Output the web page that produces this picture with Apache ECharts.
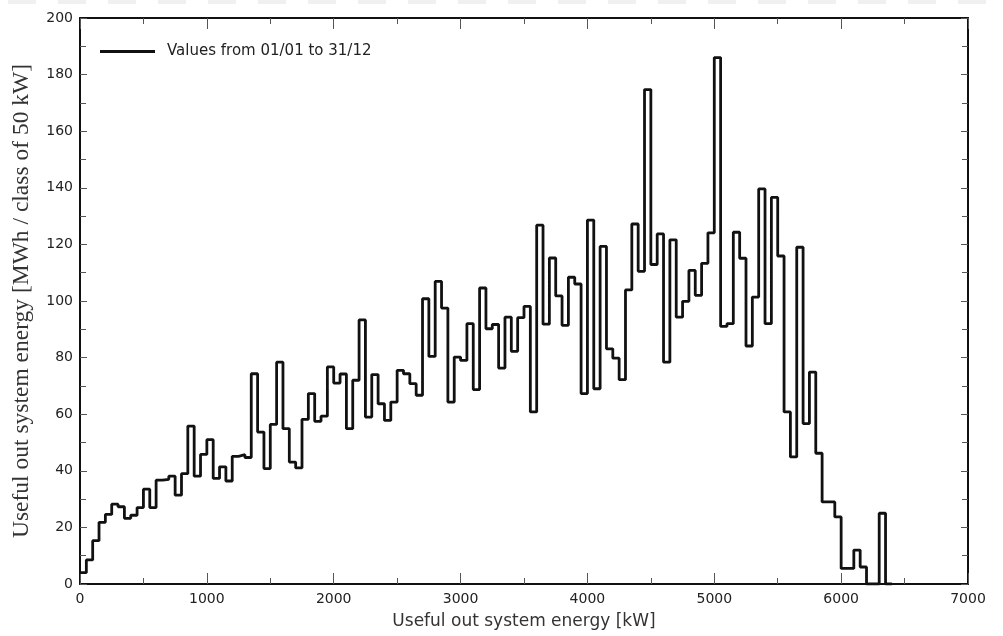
<!DOCTYPE html>
<html>
<head>
  <title>Useful out system energy</title>
  <meta charset="utf-8"/>
  <style>
    html, body { margin: 0; padding: 0; background: #fff; }
    #main { width: 1003px; height: 636px; }
  </style>
</head>
<body onload="init()">
<div id="main"></div>
<script src="https://cdn.jsdelivr.net/npm/echarts@6/dist/echarts.min.js"></script>
<script type="text/javascript">
// class width of the histogram, kW
var binWidth = 50;

// MWh per 50 kW class, one array per 1000 kW
var e0to1000 = [4, 8.5, 15.3, 21.8, 24.6, 28.2, 27.3, 23.2, 24.3, 27,
                33.5, 27, 36.7, 37, 38.1, 31.4, 39, 55.8, 38.1, 45.8];
var e1000to2000 = [51, 37.3, 41.4, 36.4, 45.1, 45.7, 44.7, 74.3, 53.7, 40.8,
                   56.4, 78.4, 54.9, 43.1, 41, 58.2, 67.3, 57.5, 59.3, 76.7];
var e2000to3000 = [71, 74.2, 54.9, 72, 93.3, 59, 74, 63.7, 57.8, 64.3,
                   75.5, 74.3, 70.8, 66.7, 100.8, 80.4, 106.9, 97.5, 64.3, 80.2];
var e3000to4000 = [79, 92, 68.7, 104.6, 90.2, 91.7, 76.3, 94.3, 82.2, 94.1,
                   98.1, 60.8, 126.8, 91.8, 115.2, 101.8, 91.4, 108.4, 106, 67.3];
var e4000to5000 = [128.6, 69, 119.3, 83.1, 79.8, 72.2, 103.9, 127.2, 110.5, 174.7,
                   112.9, 123.7, 78.4, 121.6, 94.3, 99.9, 110.8, 102, 113.3, 124.1];
var e5000to6000 = [186, 91, 92, 124.3, 115.1, 84.1, 101.4, 139.6, 92, 136.6,
                   115.9, 60.8, 44.9, 119, 56.7, 74.9, 46.2, 29, 29, 23.7];
var e6000to7000 = [5.5, 5.5, 12, 6, 0, 0, 25, 0];

var xTicks = { min: 0, max: 7000, interval: 1000 };
var yTicks = { min: 0, max: 200, interval: 20 };

var legendText = 'Values from 01/01 to 31/12';
var xName = 'Useful out system energy [kW]';
var yName = 'Useful out system energy [MWh / class of 50 kW]';

var sans = 'DejaVu Sans, Verdana, sans-serif';
var serif = 'Liberation Serif, Times New Roman, serif';

function init(){
  var values = [].concat(e0to1000, e1000to2000, e2000to3000, e3000to4000,
                         e4000to5000, e5000to6000, e6000to7000);
  // one point at the start of each class, step 'end' keeps the value over the class
  var points = values.map(function(v, i){ return [i * binWidth, v]; });
  points.push([values.length * binWidth, 0]);

  var tickStyle = { color: '#555', width: 1 };
  var lineStyle = { color: '#111', width: 2 };
  var plain = function(v){ return String(v); };

  function xAxisOf(pos, labels){
    return {
      type: 'value', position: pos,
      min: xTicks.min, max: xTicks.max, interval: xTicks.interval,
      axisLine: { show: true, onZero: false, lineStyle: lineStyle },
      axisTick: { show: true, inside: true, length: 11, lineStyle: tickStyle },
      minorTick: { show: true, splitNumber: 2, length: 6, lineStyle: tickStyle },
      splitLine: { show: false },
      minorSplitLine: { show: false },
      axisLabel: { show: labels, margin: 8, color: '#222', fontSize: 14,
                   fontFamily: sans, formatter: plain }
    };
  }
  function yAxisOf(pos, labels){
    return {
      type: 'value', position: pos,
      min: yTicks.min, max: yTicks.max, interval: yTicks.interval,
      axisLine: { show: true, onZero: false, lineStyle: lineStyle },
      axisTick: { show: true, inside: true, length: 7, lineStyle: tickStyle },
      minorTick: { show: true, splitNumber: 2, length: 6, lineStyle: tickStyle },
      splitLine: { show: false },
      minorSplitLine: { show: false },
      axisLabel: { show: labels, margin: 7, color: '#222', fontSize: 14,
                   fontFamily: sans, formatter: plain }
    };
  }

  var xMain = xAxisOf('bottom', true);
  xMain.name = xName;
  xMain.nameLocation = 'middle';
  xMain.nameGap = 29;
  xMain.nameTextStyle = { color: '#333', fontSize: 17, fontFamily: sans };
  var yMain = yAxisOf('left', true);
  yMain.name = yName;
  yMain.nameLocation = 'middle';
  yMain.nameGap = 46;
  yMain.nameTextStyle = { color: '#333', fontSize: 23.5, fontFamily: serif };

  var option = {
    animation: false,
    backgroundColor: '#fff',
    grid: { left: 80, right: 35, top: 18, bottom: 52, containLabel: false, outerBoundsMode: 'none' },
    legend: {
      left: 95, top: 39,
      icon: 'rect', itemWidth: 55, itemHeight: 3, itemGap: 10,
      textStyle: { color: '#222', fontSize: 15, fontFamily: sans, padding: [0, 0, 0, 7] },
      data: [legendText]
    },
    xAxis: [xMain, xAxisOf('top', false)],
    yAxis: [yMain, yAxisOf('right', false)],
    // faint dashes across the very top of the scan
    graphic: [{
      type: 'line', silent: true,
      shape: { x1: 8, y1: 2, x2: 1003, y2: 2 },
      style: { stroke: '#f0f0f0', lineWidth: 4, lineDash: [28, 22] }
    }],
    series: [{
      name: legendText,
      type: 'line',
      step: 'end',
      showSymbol: false,
      xAxisIndex: 0, yAxisIndex: 0,
      itemStyle: { color: '#111' },
      lineStyle: { color: '#111', width: 2.8 },
      data: points
    }]
  };

  var chart = echarts.init(document.getElementById('main'));
  chart.setOption(option);
}
</script>
</body>
</html>
